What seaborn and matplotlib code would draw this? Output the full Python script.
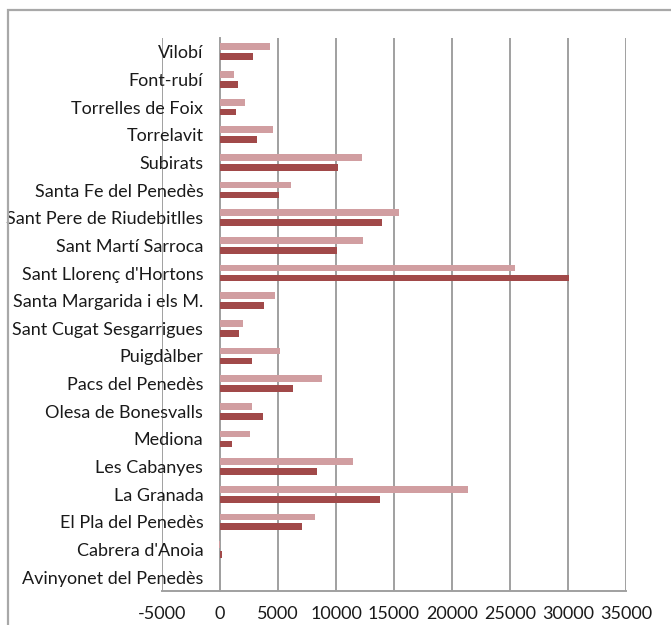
import seaborn as sns
import pandas as pd
import matplotlib.pyplot as plt
from matplotlib.patches import Rectangle
from matplotlib.ticker import MultipleLocator

municipis = ["Vilobí", "Font-rubí", "Torrelles de Foix", "Torrelavit", "Subirats",
             "Santa Fe del Penedès", "Sant Pere de Riudebitlles", "Sant Martí Sarroca",
             "Sant Llorenç d'Hortons", "Santa Margarida i els M.", "Sant Cugat Sesgarrigues",
             "Puigdàlber", "Pacs del Penedès", "Olesa de Bonesvalls", "Mediona",
             "Les Cabanyes", "La Granada", "El Pla del Penedès", "Cabrera d'Anoia",
             "Avinyonet del Penedès"]
serie_a = [4320, 1180, 2180, 4550, 12230, 6130, 15450, 12310, 25390, 4770, 2000,
           5210, 8760, 2770, 2590, 11490, 21360, 8200, -100, 0]
serie_b = [2850, 1550, 1370, 3210, 10130, 5100, 13930, 10050, 30120, 3770, 1630,
           2740, 6320, 3730, 1030, 8350, 13750, 7060, 150, 0]
series = ["A", "B"]
colors = ["#d9959a", "#b03a3a"]

df = pd.DataFrame({
    "municipi": municipis * 2,
    "serie": [series[0]] * len(municipis) + [series[1]] * len(municipis),
    "valor": serie_a + serie_b,
})

sns.set_style("white")
plt.rcParams['font.family'] = ['Lato', 'DejaVu Sans']
plt.rcParams['axes.unicode_minus'] = False

fig = plt.figure(figsize=(6.71, 6.25), dpi=100)
ax = fig.add_axes([162 / 671, 1 - 591 / 625, (626 - 162) / 671, (591 - 38) / 625])

sns.barplot(data=df, y="municipi", x="valor", hue="serie", palette=colors,
            orient="h", width=0.72, gap=0.32, order=municipis, ax=ax,
            legend=False, zorder=3, linewidth=0)

ax.set_xlim(-5000, 35000)
ax.set_ylim(len(municipis) - 0.5, -0.5)
ax.xaxis.set_major_locator(MultipleLocator(5000))
ax.grid(axis="x", color="#a0a0a0", lw=1.4, zorder=0)
ax.set_axisbelow(True)
ax.set_xlabel("")
ax.set_ylabel("")

for s in ["top", "right"]:
    ax.spines[s].set_visible(False)
ax.spines["left"].set_position(("data", 0))
ax.spines["left"].set_color("#a0a0a0")
ax.spines["left"].set_linewidth(1.4)
ax.spines["bottom"].set_color("#a0a0a0")
ax.spines["bottom"].set_linewidth(1.4)

ax.tick_params(axis="y", which="major", length=0, pad=12, labelsize=13, labelcolor="#1a1a1a")
ax.set_yticks([i - 0.5 for i in range(len(municipis) + 1)], minor=True)
ax.tick_params(axis="y", which="minor", length=4, width=1.2, color="#a0a0a0")
ax.tick_params(axis="x", length=4, width=1.2, color="#a0a0a0", pad=7, labelsize=13,
               labelcolor="#1a1a1a")

fig.patches.append(Rectangle((8 / 671, -0.1), 1.2, 1 - 10 / 625 + 0.1,
                             transform=fig.transFigure, fill=False,
                             edgecolor="#a8a8a8", lw=1.6))

fig.savefig("out.png", dpi=100)
